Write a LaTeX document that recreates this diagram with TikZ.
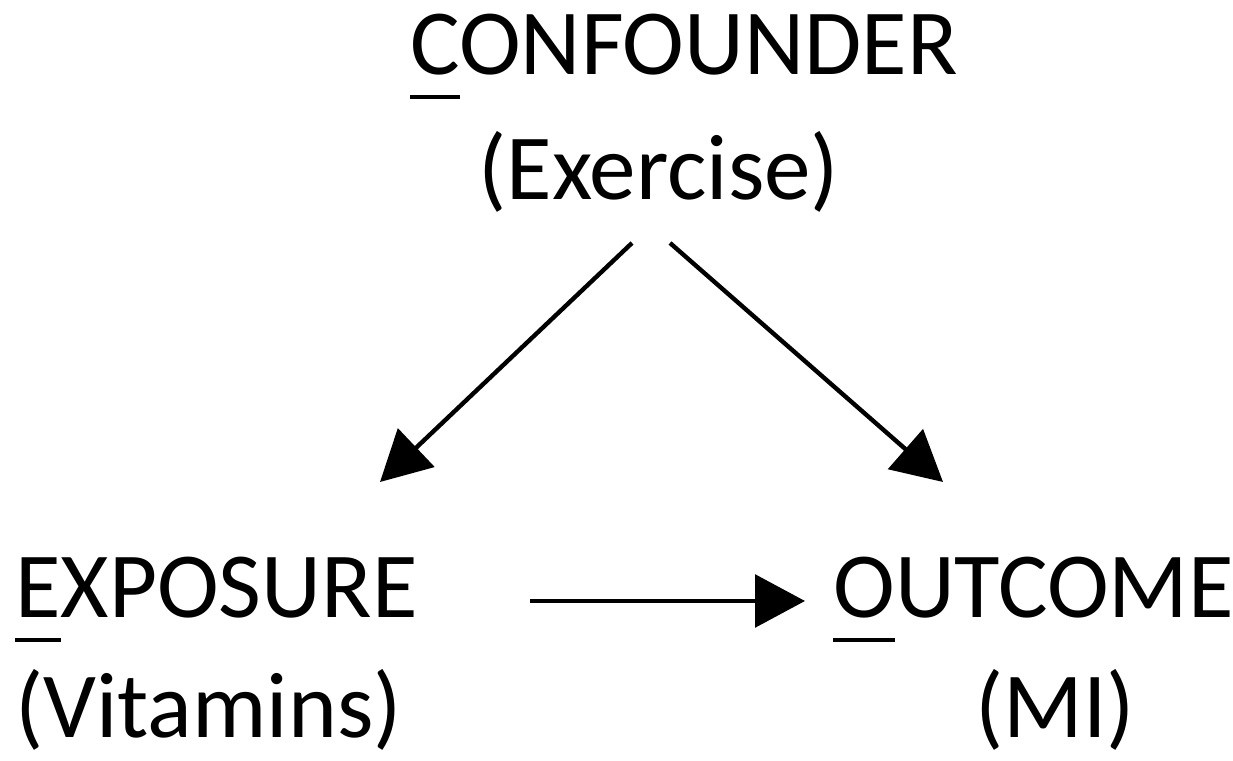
\documentclass[tikz,border=0pt]{standalone}
\usepackage{fontspec}
\setmainfont{Carlito}
\usetikzlibrary{arrows.meta}
\tikzset{
  lbl/.style={inner sep=0pt, anchor=base west, font=\fontsize{53}{64}\selectfont},
  arr/.style={line width=2.5pt, -{Triangle[length=1cm,width=1.05cm]}}
}
\newcommand{\ulett}[1]{\setbox0\hbox{#1}\rlap{\rule[-0.48cm]{\wd0}{0.08cm}}#1}
\begin{document}
\begin{tikzpicture}
\useasboundingbox (0,0) rectangle (24.66,15.22);
        \node[lbl] (conf) at (8.2,13.72) {\ulett{C}ONFOUNDER};
        \node[lbl] (exer) at (9.56,11.22) {(Exercise)};
        \node[lbl] (expo) at (0.3,2.86) {\ulett{E}XPOSURE};
        \node[lbl] (vita) at (0.3,0.46) {(Vitamins)};
        \node[lbl] (outc) at (16.66,2.86) {\ulett{O}UTCOME};
        \node[lbl] (mi) at (19.5,0.46) {(MI)};
        \coordinate (cl) at (12.64,10.36);
        \coordinate (cr) at (13.4,10.36);
        \coordinate (el) at (7.6,5.58);
        \coordinate (er) at (18.86,5.58);
        \coordinate (hs) at (10.6,3.2);
        \coordinate (he) at (16.1,3.2);
        \draw[arr] (cl) -- (el);
        \draw[arr] (cr) -- (er);
        \draw[arr] (hs) -- (he);
\end{tikzpicture}
\end{document}
